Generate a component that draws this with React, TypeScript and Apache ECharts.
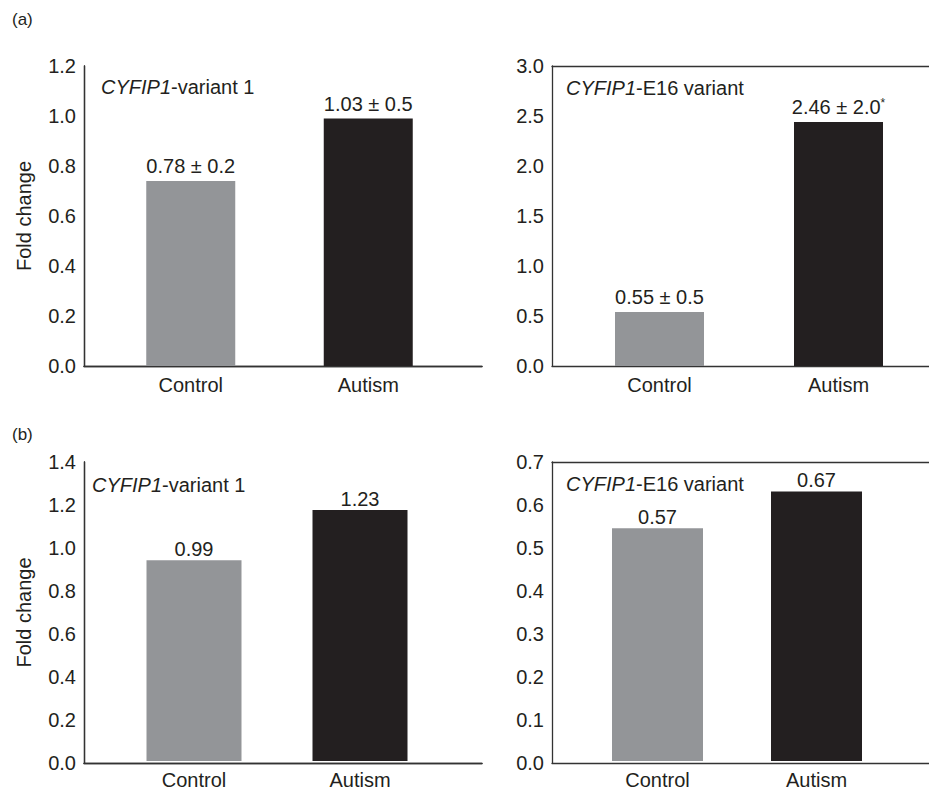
import React, { useEffect, useRef } from 'react';
import * as echarts from 'echarts';

// ---- data ----
const categories = ['Control', 'Autism'];

const a1Values = [0.74, 0.99];
const a1Labels = ['0.78 ± 0.2', '1.03 ± 0.5'];
const a1Marks = ['', ''];

const a2Values = [0.54, 2.44];
const a2Labels = ['0.55 ± 0.5', '2.46 ± 2.0'];
const a2Marks = ['', '*'];

const b1Values = [0.94, 1.175];
const b1Labels = ['0.99', '1.23'];
const b1Marks = ['', ''];

const b2Values = [0.545, 0.631];
const b2Labels = ['0.57', '0.67'];
const b2Marks = ['', ''];

const variant1Title = ['CYFIP1', '-variant 1'];
const e16Title = ['CYFIP1', '-E16 variant'];
const yAxisName = 'Fold change';
const panelTags = ['(a)', '(b)'];

const barColors = ['#939598', '#231f20'];
const ink = '#231f20';
const frameColor = '#333333';
const font = "'Liberation Sans', Arial, Helvetica, sans-serif";

// ---- layout ----
const panels = [
  { frame: { left: 84, top: 66, width: 398, height: 300 }, bars: { left: 102, width: 355 }, max: 1.2, interval: 0.2,
    values: a1Values, labels: a1Labels, marks: a1Marks, title: variant1Title, tLeft: 101, tTop: 77, dist: 5, barWidth: 89, yName: true, rightLine: true },
  { frame: { left: 552, top: 66, width: 398, height: 300 }, bars: { left: 570, width: 358 }, max: 3.0, interval: 0.5,
    values: a2Values, labels: a2Labels, marks: a2Marks, title: e16Title, tLeft: 566, tTop: 78, dist: 5, barWidth: 89, yName: false, rightLine: false },
  { frame: { left: 84, top: 462, width: 398, height: 301 }, bars: { left: 111, width: 332 }, max: 1.4, interval: 0.2,
    values: b1Values, labels: b1Labels, marks: b1Marks, title: variant1Title, tLeft: 92, tTop: 475, dist: 1, barWidth: 95, yName: true, rightLine: true },
  { frame: { left: 552, top: 462, width: 398, height: 301 }, bars: { left: 578, width: 318 }, max: 0.7, interval: 0.1,
    values: b2Values, labels: b2Labels, marks: b2Marks, title: e16Title, tLeft: 566, tTop: 474, dist: 1, barWidth: 91, yName: false, rightLine: false },
];

function buildOption() {
  const grid: any[] = [];
  const xAxis: any[] = [];
  const yAxis: any[] = [];
  const series: any[] = [];
  const title: any[] = [];
  const line = { show: true, lineStyle: { color: frameColor, width: 1.3 } };

  panels.forEach((p) => {
    const fi = grid.length;
    grid.push({ left: p.frame.left, top: p.frame.top, width: p.frame.width, height: p.frame.height, containLabel: false });
    const bi = grid.length;
    grid.push({ left: p.bars.left, top: p.frame.top, width: p.bars.width, height: p.frame.height, containLabel: false });

    // frame axes
    xAxis.push({ type: 'value', gridIndex: fi, position: 'bottom', min: 0, max: 1, axisLine: line,
      axisTick: { show: false }, axisLabel: { show: false }, splitLine: { show: false } });
    xAxis.push({ type: 'value', gridIndex: fi, position: 'top', min: 0, max: 1, axisLine: line,
      axisTick: { show: false }, axisLabel: { show: false }, splitLine: { show: false } });
    yAxis.push({
      type: 'value', gridIndex: fi, position: 'left', min: 0, max: p.max, interval: p.interval,
      axisLine: line, axisTick: { show: false }, splitLine: { show: false },
      axisLabel: { color: ink, fontSize: 20, fontFamily: font, margin: 8, formatter: (v: number) => v.toFixed(1) },
      name: p.yName ? yAxisName : '', nameLocation: 'middle', nameRotate: 90, nameGap: 50,
      nameTextStyle: { color: ink, fontSize: 20, fontFamily: font },
    });
    if (p.rightLine) {
      yAxis.push({ type: 'value', gridIndex: fi, position: 'right', min: 0, max: p.max, axisLine: line,
        axisTick: { show: false }, axisLabel: { show: false }, splitLine: { show: false } });
    }

    // bar axes
    const bx = xAxis.length;
    xAxis.push({
      type: 'category', gridIndex: bi, data: categories,
      axisLine: { show: false }, axisTick: { show: false },
      axisLabel: { color: ink, fontSize: 20, fontFamily: font, margin: 9 },
    });
    const by = yAxis.length;
    yAxis.push({ type: 'value', gridIndex: bi, min: 0, max: p.max, show: false });

    series.push({
      type: 'bar', xAxisIndex: bx, yAxisIndex: by, barWidth: p.barWidth,
      data: p.values.map((v, k) => ({ value: v, itemStyle: { color: barColors[k] } })),
      label: {
        show: true, position: 'top', distance: p.dist,
        formatter: (params: any) => {
          const k = params.dataIndex;
          const m = p.marks[k];
          return `{t|${p.labels[k]}}` + (m ? `{sup|${m}}` : '');
        },
        rich: {
          t: { fontSize: 20, color: ink, fontFamily: font, fontWeight: 'normal' },
          sup: { fontSize: 12, color: ink, fontFamily: font, fontWeight: 'normal', verticalAlign: 'top', lineHeight: 12 },
        },
      },
    });
    title.push({
      text: `{it|${p.title[0]}}{n|${p.title[1]}}`,
      left: p.tLeft, top: p.tTop, padding: 0,
      textStyle: {
        fontWeight: 'normal',
        rich: {
          it: { fontSize: 20, fontStyle: 'italic', fontWeight: 'normal', color: ink, fontFamily: font },
          n: { fontSize: 20, fontWeight: 'normal', color: ink, fontFamily: font },
        },
      },
    });
  });

  title.push({ text: panelTags[0], left: 12, top: 11, padding: 0, textStyle: { fontSize: 17, fontWeight: 'normal', color: ink, fontFamily: font } });
  title.push({ text: panelTags[1], left: 12, top: 426, padding: 0, textStyle: { fontSize: 17, fontWeight: 'normal', color: ink, fontFamily: font } });

  return {
    animation: false,
    backgroundColor: '#ffffff',
    title, grid, xAxis, yAxis, series,
  };
}

export default function App() {
  const ref = useRef<HTMLDivElement>(null);
  useEffect(() => {
    if (!ref.current) return;
    const chart = echarts.init(ref.current, undefined, { renderer: 'svg' });
    chart.setOption(buildOption() as any);
    return () => chart.dispose();
  }, []);
  return <div ref={ref} style={{ position: 'absolute', left: 0, top: 0, width: 929, height: 790 }} />;
}
